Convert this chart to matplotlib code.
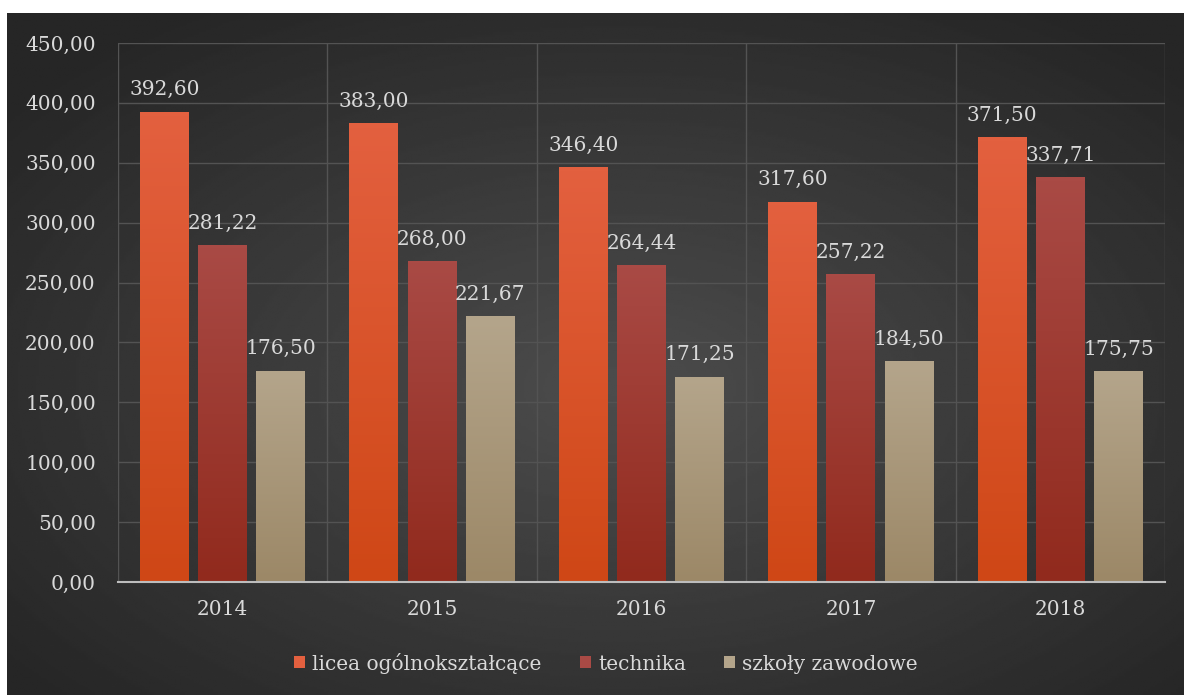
import numpy as np
import matplotlib
matplotlib.use('Agg')
import matplotlib.pyplot as plt
from matplotlib.colors import LinearSegmentedColormap

lata = ['2014', '2015', '2016', '2017', '2018']
licea = [392.60, 383.00, 346.40, 317.60, 371.50]
technika = [281.22, 268.00, 264.44, 257.22, 337.71]
zawodowe = [176.50, 221.67, 171.25, 184.50, 175.75]

serie = [
    ('licea ogólnokształcące', licea, ('#e3603f', '#cf4716')),
    ('technika', technika, ('#a94a45', '#912a1d')),
    ('szkoły zawodowe', zawodowe, ('#b4a58b', '#9c8867')),
]

plt.rcParams['font.family'] = ['DejaVu Serif']
kolor_tekstu = '#d9d9d9'
rozm = 14.5

fig = plt.figure(figsize=(11.84, 6.95), dpi=100, facecolor='white')

# tlo - gradient radialny
tlo = fig.add_axes([7 / 1184, 0, 1 - 7 / 1184, 1 - 13 / 695])
yy, xx = np.mgrid[0:1:300j, 0:1:500j]
r = np.sqrt(((xx - 0.52) / 0.75) ** 2 + ((yy - 0.45) / 0.75) ** 2)
wart = np.clip(0.30 - 0.17 * r, 0.15, 0.30)
tlo.imshow(wart, cmap='gray', vmin=0, vmax=1, aspect='auto', origin='lower',
           extent=[0, 1, 0, 1])
tlo.axis('off')

ax = fig.add_axes([118 / 1184, 1 - 582 / 695, (1165 - 118) / 1184, (582 - 43) / 695])
ax.set_facecolor('none')

x = np.arange(len(lata))
szer = 0.234
przes = [-0.278, 0, 0.278]

uchwyty = []
for (nazwa, wartosci, (gora, dol)), dx in zip(serie, przes):
    cm = LinearSegmentedColormap.from_list(nazwa, [dol, gora])
    bary = ax.bar(x + dx, wartosci, szer, color=gora, edgecolor='none', zorder=3, label=nazwa)
    for b, v in zip(bary, wartosci):
        gr = np.linspace(0, 1, 100).reshape(-1, 1)
        im = ax.imshow(gr, cmap=cm, aspect='auto', origin='lower',
                       extent=[b.get_x(), b.get_x() + b.get_width(), 0, v], zorder=4)
        im.set_clip_path(b)
        ax.annotate(f'{v:.2f}'.replace('.', ','), (b.get_x() + b.get_width() / 2, v),
                    xytext=(0, 9), textcoords='offset points', ha='center', va='bottom',
                    color=kolor_tekstu, fontsize=rozm, zorder=5)
    uchwyty.append(bary)

ax.set_xlim(-0.5, len(lata) - 0.5)
ax.set_ylim(0, 450)
ax.set_yticks(np.arange(0, 451, 50))
ax.set_yticklabels([f'{t:.2f}'.replace('.', ',') for t in np.arange(0, 451, 50)])
ax.set_xticks(x)
ax.set_xticklabels(lata)
ax.set_xticks(np.arange(-0.5, len(lata)), minor=True)

ax.grid(axis='y', color='#535353', linewidth=1, zorder=0)
ax.grid(axis='x', which='minor', color='#535353', linewidth=1, zorder=0)
ax.tick_params(axis='both', which='both', length=0, colors=kolor_tekstu, labelsize=rozm)
ax.tick_params(axis='y', pad=16)
ax.tick_params(axis='x', pad=13)
for s in ['top', 'right', 'left']:
    ax.spines[s].set_visible(False)
ax.spines['bottom'].set_color('#bdbdbd')
ax.spines['bottom'].set_linewidth(1.5)
ax.spines['bottom'].set_zorder(6)

leg = fig.legend(handles=uchwyty, loc='center', bbox_to_anchor=(606 / 1184, 1 - 663 / 695),
                 ncol=3, frameon=False, prop={'family': 'DejaVu Serif', 'size': rozm},
                 handlelength=0.55, handleheight=0.55, handletextpad=0.35, columnspacing=1.9)
for t in leg.get_texts():
    t.set_color(kolor_tekstu)

fig.savefig('out.png', dpi=100, facecolor='white')
